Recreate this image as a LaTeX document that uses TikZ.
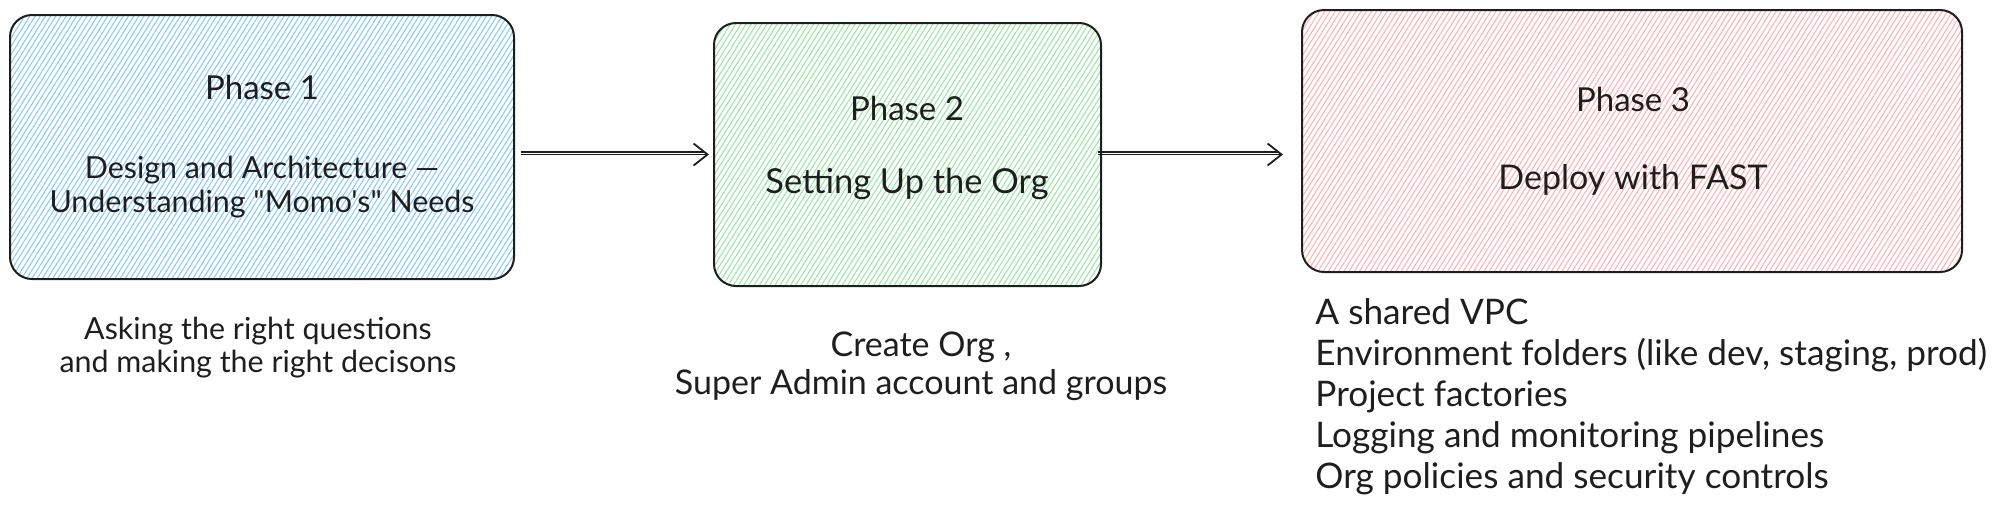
\documentclass[tikz,border=0pt]{standalone}
\usepackage{fontspec}
\setmainfont{Lato}[Ligatures=TeXOff]
\usetikzlibrary{patterns.meta,arrows.meta}
\definecolor{ink}{HTML}{1E1E1E}
\definecolor{hblue}{HTML}{8CCBF7}
\definecolor{hgreen}{HTML}{9BE8A6}
\definecolor{hred}{HTML}{FFB3B3}
\begin{document}
\begin{tikzpicture}[x=0.5pt,y=-0.5pt,
  phasebox/.style={draw=ink, line width=1pt, rounded corners=11pt, inner sep=0pt},
  hatch/.style={pattern={Lines[angle=58,distance=2.2pt,line width=0.55pt]}, pattern color=#1},
  txt/.style={text=ink, inner sep=0pt, font=\fontsize{16.5}{17}\selectfont},
  conn/.style={draw=ink, line width=0.8pt, -{Straight Barb[length=7pt,width=11pt,line width=0.9pt]}},
  conn2/.style={draw=ink, line width=0.7pt}]
\useasboundingbox (0,0) rectangle (2000,504);

% boxes
\node[phasebox, hatch=hblue, minimum width=252pt, minimum height=132pt] (b1) at (262,147) {};
\node[phasebox, hatch=hgreen, minimum width=193.5pt, minimum height=131.5pt] (b2) at (907.5,154.5) {};
\node[phasebox, hatch=hred, minimum width=330pt, minimum height=131pt] (b3) at (1632,141) {};

% box texts
\node[txt] (p1) at (262,87) {Phase 1};
\node[txt, align=center, font=\fontsize{15.2}{17}\selectfont] (d1) at (262,187) {Design and Architecture —\\Understanding "Momo's" Needs};
\node[txt] (p2) at (907,108) {Phase 2};
\node[txt, font=\fontsize{17.2}{17}\selectfont] (d2) at (907,184) {Setting Up the Org};
\node[txt] (p3) at (1633,99) {Phase 3};
\node[txt, font=\fontsize{17}{17}\selectfont] (d3) at (1633,180) {Deploy with FAST};

% notes
\node[txt, align=center, font=\fontsize{15.2}{16.5}\selectfont] (n1) at (258,348) {Asking the right questions\\and making the right decisons};
\node[txt, align=center, font=\fontsize{17}{19}\selectfont] (n2) at (921,366) {Create Org ,\\Super Admin account and groups};
\node[txt, align=left, anchor=north west, font=\fontsize{17.6}{20.5}\selectfont] (n3) at (1315,298) {A shared VPC\\Environment folders (like dev, staging, prod)\\Project factories\\Logging and monitoring pipelines\\Org policies and security controls};

% connectors
\draw[conn] ([xshift=3pt]b1.east |- b2.west) -- ([xshift=-2pt]b2.west);
\draw[conn2] ([xshift=3pt,yshift=1.3pt]b1.east |- b2.west) -- ([xshift=-4pt,yshift=1.3pt]b2.west);
\draw[conn] ([xshift=-2pt]b2.east) -- ([xshift=-9pt]b3.west |- b2.east);
\draw[conn2] ([xshift=-2pt,yshift=1.3pt]b2.east) -- ([xshift=-11pt,yshift=1.3pt]b3.west |- b2.east);
\end{tikzpicture}
\end{document}
